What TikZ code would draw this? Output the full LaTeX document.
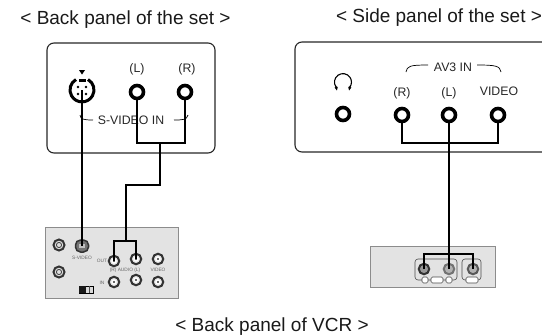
\documentclass[tikz,border=0pt]{standalone}
\usetikzlibrary{arrows.meta}
\usepackage{fontspec}
\setmainfont{Liberation Sans}
\begin{document}
\begin{tikzpicture}[x=1pt,y=-1pt,
 panel/.style={draw=black!85,line width=1.1pt,rounded corners=7pt},
 jack/.style={circle,draw=black,line width=3.6pt,fill=white,minimum size=13pt,inner sep=0pt},
 wire/.style={draw=black,line width=1.9pt},
 thin line/.style={draw=black,line width=0.7pt},
 lab/.style={font=\fontsize{12.3}{14}\selectfont,inner sep=0pt,text=black!85},
 title/.style={font=\fontsize{19}{21}\selectfont,inner sep=0pt,text=black!90,anchor=base},
 tiny/.style={font=\fontsize{4.8}{5}\selectfont,inner sep=0pt,text=black!60},
 vcr/.style={draw=black!45,fill=black!11,line width=0.8pt},
 rca/.style={circle,draw=black!80,line width=2pt,fill=black!12,minimum size=10.5pt,inner sep=0pt},
 dot/.style={circle,fill=black,minimum size=2.6pt,inner sep=0pt},
 socket/.style={draw=black!70,line width=0.6pt,rounded corners=3pt},
]
\useasboundingbox (0,0) rectangle (542,335);
\clip (0,0) rectangle (542,335);
\node[title] (t1) at (125.5,24) {< Back panel of the set >};
\node[title] (t2) at (439,22) {< Side panel of the set >};
\node[title] (t3) at (272,331) {< Back panel of VCR >};
% left panel
\draw[panel] (47,43) rectangle (215,153);
\node[lab] (lL) at (137,69) {(L)};
\node[lab] (lR) at (187,69) {(R)};
\node[jack] (jL) at (137,92) {};
\node[jack] (jR) at (185,92) {};
% s-video socket
\coordinate (sv) at (82,90);
\draw[line width=3pt] (76,79.5) arc[start angle=120,end angle=270,radius=12pt];
\draw[line width=3pt] (88,79.5) arc[start angle=60,end angle=-90,radius=12pt];
\fill (79,79) rectangle (86,82);
\fill (79,70) -- (85,70) -- (82,74.5) -- cycle;
\node[dot] (d1) at (78,87) {}; \node[dot] (d2) at (86,87) {};
\node[dot] (d3) at (78,94) {}; \node[dot] (d4) at (86,94) {};
\node[lab] (svl) at (131,120) {S-VIDEO IN};
\draw[thin line] (80,115) .. controls (81,119) and (82,120) .. (93,120);
\draw[thin line] (174,120) .. controls (182,120) and (187,120) .. (188,115);
% right panel
\draw[panel] (295,42) rectangle (560,152);
\node[lab] (av) at (453,67) {AV3 IN};
\draw[thin line] (406,72) .. controls (407,66) and (410,65) .. (428,65);
\draw[thin line] (477,65) .. controls (496,65) and (500,66) .. (501,72);
\node[lab] (rR) at (402,93) {(R)};
\node[lab] (rL) at (449,93) {(L)};
\node[lab] (rV) at (499,91) {VIDEO};
\node[jack] (jP) at (343,114) {};
\node[jack] (jRR) at (402,115) {};
\node[jack] (jRL) at (449,115) {};
\node[jack] (jRV) at (498,115) {};
\draw[line width=1.1pt] (336,87) arc[start angle=215,end angle=-35,radius=8.5pt];
\draw[line width=1pt,-{Latex[length=4pt,width=3.5pt]}] (336,86) -- (337,91);
\draw[line width=1pt,-{Latex[length=4pt,width=3.5pt]}] (350,86) -- (349,91);
% vcr left
\draw[vcr] (45,227) rectangle (178,298);
\node[rca,minimum size=11pt] (a) at (59,245) {};
\node[rca,minimum size=11pt] (b) at (59,272) {};
\node[draw=black!80,line width=1.5pt,fill=black!55,rounded corners=5pt,minimum width=13pt,minimum height=12pt,inner sep=0pt] (vsv) at (82,246) {};
\node[rca] (o1) at (114,261) {};
\node[rca] (o2) at (136,259) {};
\node[rca] (o3) at (158,259) {};
\node[rca] (i1) at (114,282) {};
\node[rca] (i2) at (136,280) {};
\node[rca] (i3) at (158,282) {};
\foreach \x/\y in {59/245,59/272}{
 \draw[black!70,line width=.9pt] (\x,\y) circle[radius=2.6pt];
}
\foreach \x/\y in {114/261,136/259,158/259,114/282,136/280,158/282}{
 \fill[white] (\x,\y) circle[radius=2.8pt];
 \fill[black!80] (\x,\y) circle[radius=1.2pt];
}
\fill[black!25] (79,244) rectangle (85,248);
\node[tiny] (n1) at (82,258) {S-VIDEO};
\node[tiny] (n2) at (102,261) {OUT};
\node[tiny] (n3) at (125,270) {(R) AUDIO (L)};
\node[tiny] (n4) at (158,270) {VIDEO};
\node[tiny] (n5) at (102,283) {IN};
\draw[draw=black,fill=black!15,line width=.8pt] (79,286) rectangle (93,293);
\fill[black!90] (79,286) rectangle (86,293);
\draw[black!70,line width=.6pt] (89,286) -- (89,293);
% vcr right
\draw[vcr] (370,246) rectangle (495,287);
\draw[socket] (415,259) rectangle (457,280);
\draw[socket] (462,259) rectangle (481,280);
\node[rca,fill=black!40] (a1) at (424,269) {};
\node[rca,fill=black!30,draw=black!55] (a2) at (449,269) {};
\node[rca,fill=black!30,draw=black!65] (a3) at (473,269) {};
\draw[socket,fill=white,rounded corners=1.5pt] (422,277) rectangle (428,283);
\draw[socket,fill=white,rounded corners=1.5pt] (431,277) rectangle (443,283);
\draw[socket,fill=white,rounded corners=1.5pt] (446,277) rectangle (452,283);
\draw[socket,fill=white,rounded corners=1.5pt] (466,277) rectangle (478,283);
% wires
\coordinate (w1) at (137,143);
\coordinate (w2) at (185,143);
\coordinate (w3) at (160,143);
\coordinate (w4) at (160,185);
\coordinate (w5) at (126,185);
\coordinate (w6) at (126,241);
\coordinate (w7) at (114,241);
\coordinate (w8) at (136,241);
\draw[wire] (sv) -- (vsv.center);
\draw[wire] (jL.south) -- (w1) -- (w2) -- (jR.south);
\draw[wire] (w3) -- (w4) -- (w5) -- (w6);
\draw[wire] (o1.center) -- (w7) -- (w8) -- (o2.center);
\coordinate (x1) at (402,143);
\coordinate (x2) at (498,143);
\coordinate (x3) at (424,254);
\coordinate (x4) at (473,254);
\draw[wire] (jRR.south) -- (x1) -- (x2) -- (jRV.south);
\draw[wire] (jRL.south) -- (a2.center);
\draw[wire] (a1.center) -- (x3) -- (x4) -- (a3.center);
\end{tikzpicture}
\end{document}
